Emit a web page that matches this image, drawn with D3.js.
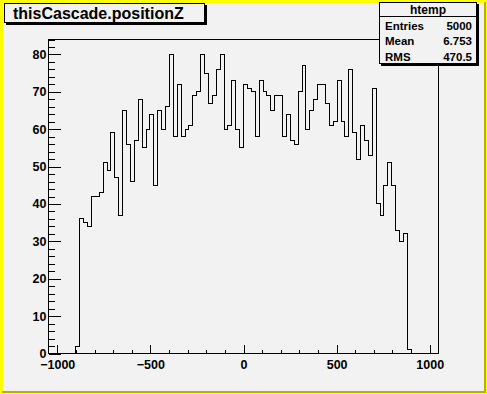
<!DOCTYPE html>
<html>
<head>
<meta charset="utf-8">
<script src="https://cdn.jsdelivr.net/npm/d3@7"></script>
<style>
  body { margin: 0; background: #ffff00; }
  svg { display: block; }
  text { font-family: "Liberation Sans", Arial, Helvetica, sans-serif; font-weight: bold; fill: #000; }
</style>
</head>
<body>
<svg id="canvas"></svg>
<script>
// ROOT style histogram of thisCascade.positionZ

// histogram range and bin contents (100 bins)
let xMin = -1047
let xMax = 1047
let counts = [
  0, 0, 0, 0, 0, 0, 0,
  2, 36, 35, 34, 42, 42, 43, 51, 49, 59,
  47, 37, 65, 56, 46, 57, 68, 55, 60, 64,
  45, 65, 60, 66, 80, 58, 72, 58, 60, 61,
  69, 70, 80, 75, 67, 69, 76, 80, 60, 61,
  73, 60, 55, 72, 71, 70, 58, 73, 70, 69,
  65, 69, 69, 58, 64, 57, 56, 70, 77, 60,
  65, 68, 72, 72, 67, 61, 62, 73, 62, 58,
  76, 59, 52, 61, 57, 53, 71, 40, 37, 45,
  51, 45, 33, 30, 32, 1,
  0, 0, 0, 0, 0, 0, 0
]
let yMax = 84

let xMajor = [-1000, -500, 0, 500, 1000]
let xMinor = [-1000, -900, -800, -700, -600, -500, -400, -300, -200, -100, 0, 100, 200, 300, 400, 500, 600, 700, 800, 900, 1000]
let yMajor = [0, 10, 20, 30, 40, 50, 60, 70, 80]
let yMinor = [0, 2, 4, 6, 8, 10, 12, 14, 16, 18, 20, 22, 24, 26, 28, 30, 32, 34, 36, 38, 40,
              42, 44, 46, 48, 50, 52, 54, 56, 58, 60, 62, 64, 66, 68, 70, 72, 74, 76, 78, 80, 82, 84]

let title = 'thisCascade.positionZ'
let statsName = 'htemp'
let statsLabels = ['Entries', 'Mean', 'RMS']
let statsValues = ['5000', '6.753', '470.5']

//Dimensions
let width = 487
let height = 394
let frame = { left: 48.5, right: 438.5, top: 39.5, bottom: 353.5 }

let svg = d3.select('#canvas')
            .attr('width', width)
            .attr('height', height)

let xScale, yScale

let drawCanvas = () => {
  // yellow bevelled canvas, grey pad
  svg.append('rect').attr('width', width).attr('height', height).style('fill', '#ffff00')
  svg.append('rect').attr('x', 484).attr('y', 2).attr('width', 2).attr('height', 391).style('fill', '#b3b300')
  svg.append('rect').attr('x', 2).attr('y', 391).attr('width', 484).attr('height', 2).style('fill', '#b3b300')
  svg.append('rect').attr('x', 3).attr('y', 3).attr('width', 481).attr('height', 388).style('fill', '#f2f2f2')
}

let generateScales = () => {
  xScale = d3.scaleLinear()
             .domain([xMin, xMax])
             .range([frame.left, frame.right])
  yScale = d3.scaleLinear()
             .domain([0, yMax])
             .range([frame.bottom, frame.top])
}

let drawHistogram = () => {
  let binWidth = (xMax - xMin) / counts.length
  let points = [[xMin, 0]]
  counts.forEach((c, i) => {
    points.push([xMin + i * binWidth, c])
    points.push([xMin + (i + 1) * binWidth, c])
  })
  points.push([xMax, 0])

  let line = d3.line()
               .x((d) => xScale(d[0]))
               .y((d) => yScale(d[1]))

  svg.append('path')
     .datum(points)
     .attr('d', line)
     .style('fill', 'none')
     .style('stroke', '#000')
     .style('stroke-width', 1)
     .style('shape-rendering', 'crispEdges')
}

let generateAxes = () => {
  // minor ticks first, no labels
  svg.append('g')
     .attr('transform', `translate(0,${frame.bottom})`)
     .call(d3.axisBottom(xScale).tickValues(xMinor).tickSize(-4).tickFormat(''))
  svg.append('g')
     .attr('transform', `translate(${frame.left},0)`)
     .call(d3.axisLeft(yScale).tickValues(yMinor).tickSize(-6).tickFormat(''))

  let xAxis = d3.axisBottom(xScale)
                .tickValues(xMajor)
                .tickSize(-8.5)
                .tickPadding(6.5)
                .tickFormat(d3.format('d'))
  let yAxis = d3.axisLeft(yScale)
                .tickValues(yMajor)
                .tickSize(-12.5)
                .tickPadding(2)
                .tickFormat(d3.format('d'))

  svg.append('g')
     .attr('id', 'x-axis')
     .attr('transform', `translate(0,${frame.bottom})`)
     .call(xAxis)
  svg.append('g')
     .attr('id', 'y-axis')
     .attr('transform', `translate(${frame.left},0)`)
     .call(yAxis)

  svg.selectAll('.domain').remove()
  svg.selectAll('.tick line').style('stroke', '#000').style('shape-rendering', 'crispEdges')
  svg.selectAll('.tick text').style('font-size', '12.5px').style('font-family', '"Liberation Sans", Arial, sans-serif').style('font-weight', 'bold')

  // frame
  svg.append('rect')
     .attr('x', frame.left)
     .attr('y', frame.top)
     .attr('width', frame.right - frame.left)
     .attr('height', frame.bottom - frame.top)
     .style('fill', 'none')
     .style('stroke', '#000')
     .style('shape-rendering', 'crispEdges')
}

// box with a shadow, like ROOT's TPaveText
let pave = (x, y, w, h) => {
  svg.append('rect').attr('x', x + 2).attr('y', y + 2).attr('width', w).attr('height', h).style('fill', '#000')
  svg.append('rect').attr('x', x + 0.5).attr('y', y + 0.5).attr('width', w - 1).attr('height', h - 1)
     .style('fill', '#f2f2f2').style('stroke', '#000').style('shape-rendering', 'crispEdges')
}

let descriptions = () => {
  pave(4, 3, 201, 20)
  svg.append('text')
     .attr('id', 'title')
     .attr('x', 13)
     .attr('y', 18.5)
     .style('font-size', '16px')
     .text(title)

  // stats box
  pave(379, 2, 98, 62)
  svg.append('line')
     .attr('x1', 379).attr('x2', 477)
     .attr('y1', 16.5).attr('y2', 16.5)
     .style('stroke', '#000')
  svg.append('text')
     .attr('x', 428)
     .attr('y', 13.5)
     .attr('text-anchor', 'middle')
     .style('font-size', '12px')
     .text(statsName)

  for (let i = 0; i < statsLabels.length; i++) {
    svg.append('text')
       .attr('x', 385)
       .attr('y', 29.5 + i * 15.8)
       .style('font-size', '11.5px')
       .text(statsLabels[i])
    svg.append('text')
       .attr('x', 472)
       .attr('y', 29.5 + i * 15.8)
       .attr('text-anchor', 'end')
       .style('font-size', '11.5px')
       .text(statsValues[i])
  }
}

drawCanvas()
generateScales()
generateAxes()
drawHistogram()
descriptions()
</script>
</body>
</html>
